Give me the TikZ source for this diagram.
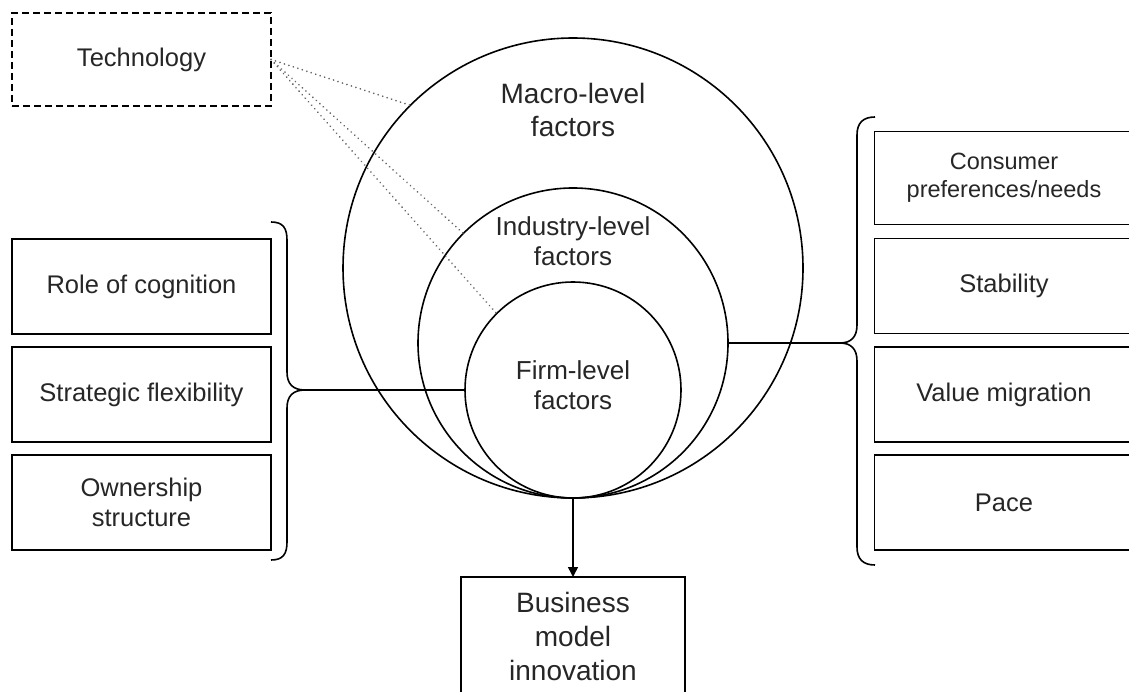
\documentclass[tikz,border=0pt]{standalone}
\usepackage{fontspec}
\setmainfont{Liberation Sans}
\usetikzlibrary{arrows.meta}
\begin{document}
\begin{tikzpicture}[x=1pt,y=-1pt,
  factorbox/.style={draw, line width=1.6pt, minimum width=259pt, minimum height=95pt,
    inner sep=0pt, outer sep=0pt, align=center, text=black!85,
    font=\fontsize{25.5}{30}\selectfont},
  ring/.style={draw, circle, line width=1.6pt, inner sep=0pt, outer sep=0pt},
  ringlabel/.style={align=center, text=black!85, font=\fontsize{26}{30}\selectfont},
  techlink/.style={line width=1.8pt, black!60, line cap=round, dash pattern=on 0.1pt off 4.6pt},
  bracket/.style={line width=1.6pt, line join=round},
  link/.style={line width=1.6pt},
  flow/.style={line width=1.6pt, -{Triangle[length=10pt,width=10pt]}}
]
\useasboundingbox (0,0) rectangle (1129,692);
\clip (0,0) rectangle (1129,692);

% nested levels of factors, all touching at the bottom
\node[ring, minimum size=460pt] (macro) at (573,268) {};
\node[ring, minimum size=310pt] (industry) at (573,343) {};
\node[ring, minimum size=216pt] (firm) at (573,390) {};

\node[ringlabel, font=\fontsize{28}{33}\selectfont] (macrolbl) at (573,110) {Macro-level\\factors};
\node[ringlabel] (industrylbl) at (573,241) {Industry-level\\factors};
\node[ringlabel] (firmlbl) at (573,385) {Firm-level\\factors};

% technology and its links into every level
\node[factorbox, dash pattern=on 7pt off 4pt, minimum height=93pt] (tech) at (141.5,59.5) {Technology};
\draw[techlink] (tech.east) -- (macro.135);
\draw[techlink] (tech.east) -- (industry.135);
\draw[techlink] (tech.east) -- (firm.135);

% firm-level factors
\node[factorbox] (cog) at (141.5,286.5) {Role of cognition};
\node[factorbox] (flex) at (141.5,394.5) {Strategic flexibility};
\node[factorbox] (own) at (141.5,502.5) {Ownership\\structure};

\coordinate (ltip) at (305,390);
\draw[bracket] (271,222) .. controls (283,222) and (287,228) .. (287,240)
  -- (287,372) .. controls (287,384) and (293,390) .. (ltip)
  .. controls (293,390) and (287,396) .. (287,408)
  -- (287,542) .. controls (287,554) and (283,560) .. (271,560);
\draw[link] (ltip) -- (firm.west);

% industry-level factors
\node[factorbox, minimum height=93pt, font=\fontsize{23.5}{28}\selectfont] (cons) at (1004,178) {Consumer\\preferences/needs};
\node[factorbox] (stab) at (1004,286) {Stability};
\node[factorbox] (valm) at (1004,394.5) {Value migration};
\node[factorbox] (pace) at (1004,502.5) {Pace};

\coordinate (rtip) at (840,343);
\draw[bracket] (875,117) .. controls (863,117) and (857,123) .. (857,135)
  -- (857,325) .. controls (857,337) and (851,343) .. (rtip)
  .. controls (851,343) and (857,349) .. (857,361)
  -- (857,547) .. controls (857,559) and (863,565) .. (875,565);
\draw[link] (industry.east) -- (rtip);

% outcome
\node[factorbox, minimum width=224pt, minimum height=118pt, anchor=north,
  font=\fontsize{28}{34}\selectfont] (bmi) at (573,577) {Business\\model\\innovation};
\draw[flow] (macro.south) -- (bmi.north);
\end{tikzpicture}
\end{document}
